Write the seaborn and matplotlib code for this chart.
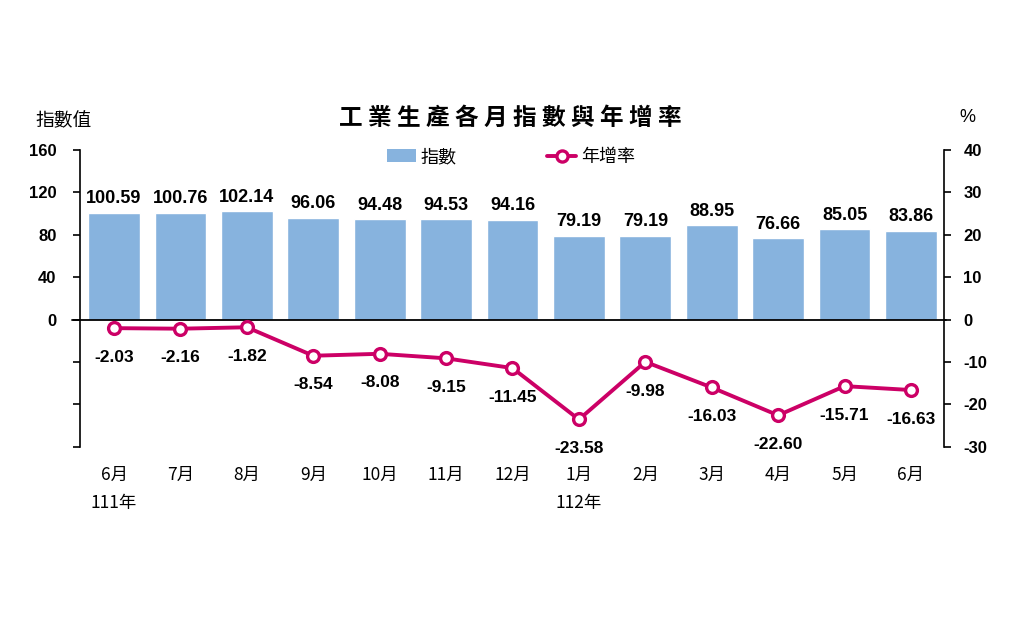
import numpy as np
import pandas as pd
import matplotlib
matplotlib.use("Agg")
import matplotlib.pyplot as plt
import matplotlib.transforms as mtransforms
from matplotlib import font_manager as fm
from matplotlib.lines import Line2D
from matplotlib.patches import Patch
import seaborn as sns

# ---------------- data ----------------
periods = ["111-06", "111-07", "111-08", "111-09", "111-10", "111-11", "111-12",
           "112-01", "112-02", "112-03", "112-04", "112-05", "112-06"]
month_labels = ["6月", "7月", "8月", "9月", "10月", "11月", "12月",
                "1月", "2月", "3月", "4月", "5月", "6月"]
index_values = [100.59, 100.76, 102.14, 96.06, 94.48, 94.53, 94.16,
                79.19, 79.19, 88.95, 76.66, 85.05, 83.86]
growth_rates = [-2.03, -2.16, -1.82, -8.54, -8.08, -9.15, -11.45,
                -23.58, -9.98, -16.03, -22.60, -15.71, -16.63]
year_marks = {"111-06": "111年", "112-01": "112年"}
left_ticks = [-120, -80, -40, 0, 40, 80, 120, 160]
left_tick_labels = ["", "", "", "0", "40", "80", "120", "160"]
right_ticks = [-30, -20, -10, 0, 10, 20, 30, 40]
right_tick_labels = ["-30", "-20", "-10", "0", "10", "20", "30", "40"]
title = "工 業 生 產 各 月 指 數 與 年 增 率"
legend_labels = ["指數", "年增率"]

BAR = "#87B3DE"
LINE = "#CC0066"

sns.set_theme(style="white")
avail = {f.name for f in fm.fontManager.ttflist}
NARROW = "Liberation Sans Narrow" if "Liberation Sans Narrow" in avail else "Liberation Sans"
CJK = "Noto Sans CJK TC"
plt.rcParams["font.family"] = ["Liberation Sans", CJK, "DejaVu Sans"]
for k in ["text.color", "axes.labelcolor", "xtick.color", "ytick.color"]:
    plt.rcParams[k] = "black"

W, H = 1010, 617
fig = plt.figure(figsize=(W / 100, H / 100), dpi=100)
ax_left, ax_right, ax_top, ax_bot = 80, 944, 150, 446.7
ax = fig.add_axes([ax_left / W, 1 - ax_bot / H, (ax_right - ax_left) / W, (ax_bot - ax_top) / H])

df = pd.DataFrame({"period": periods, "index": index_values,
                   "rate": growth_rates, "pos": np.arange(len(periods))})

sns.barplot(data=df, x="period", y="index", color=BAR, saturation=1,
            width=0.78, errorbar=None, ax=ax, zorder=1)
ax.set_ylim(-120, 160)
lab_size = 14 if NARROW != "Liberation Sans" else 13
ax.bar_label(ax.containers[0], labels=[f"{v:.2f}" for v in index_values],
             padding=4, fontsize=lab_size, fontweight="bold", family=NARROW, color="black")

ax2 = ax.twinx()
sns.lineplot(data=df, x="pos", y="rate", ax=ax2, color=LINE, lw=2.8,
             marker="o", markersize=8.5, markerfacecolor="white",
             markeredgecolor=LINE, markeredgewidth=2.4)
ax2.set_ylim(-30, 40)
for i, r in enumerate(growth_rates):
    ax2.annotate(f"{r:.2f}", (i, r), xytext=(0, -21), textcoords="offset points",
                 ha="center", va="center", fontsize=lab_size - 0.5, fontweight="bold",
                 family=NARROW, color="black")

xl = (-0.512, len(periods) - 1 + 0.497)
ax.set_xlim(*xl)
ax2.set_xlim(*xl)

# spines
for s in ["top", "bottom", "right"]:
    ax.spines[s].set_visible(False)
for s in ["top", "bottom", "left"]:
    ax2.spines[s].set_visible(False)
ax.spines["left"].set_color("black")
ax.spines["left"].set_linewidth(1.2)
ax2.spines["right"].set_color("black")
ax2.spines["right"].set_linewidth(1.2)

ax.set_yticks(left_ticks, labels=left_tick_labels, fontsize=12, fontweight="bold")
ax.tick_params(axis="y", left=True, direction="out", length=5, width=1.2,
               pad=12, colors="black")
ax2.set_yticks(right_ticks, labels=right_tick_labels, fontsize=12, fontweight="bold")
ax2.tick_params(axis="y", right=True, direction="out", length=5, width=1.2,
                pad=9, colors="black")

ax.set_xticks(range(len(periods)), labels=month_labels, fontsize=12.5, family=CJK)
ax.tick_params(axis="x", bottom=False, length=0, pad=14, colors="black")
ax2.tick_params(axis="x", bottom=False, labelbottom=False)
ax.set_xlabel("")
ax.set_ylabel("")
ax2.set_xlabel("")
ax2.set_ylabel("")
ax.grid(False)
ax2.grid(False)

ax.axhline(0, xmin=-0.0093, xmax=1.0023, color="black", lw=1.3,
           clip_on=False, zorder=3)

trans = mtransforms.blended_transform_factory(ax.transData, ax.transAxes)
for i, p in enumerate(periods):
    if p in year_marks:
        ax.text(i, -(503 - ax_bot) / (ax_bot - ax_top), year_marks[p], transform=trans,
                ha="center", va="center", fontsize=12.5, family=CJK, color="black")

fig.text(0.505, 1 - 118 / H, title, ha="center", va="center", fontsize=17,
         fontweight="bold", family=CJK, color="black")
fig.text(35 / W, 1 - 121 / H, "指數值", ha="left", va="center", fontsize=13.5,
         family=CJK, color="black")
fig.text(967 / W, 1 - 118 / H, "%", ha="center", va="center", fontsize=13,
         family="Liberation Sans", color="black")

handles = [Patch(facecolor=BAR, edgecolor="none"),
           Line2D([], [], color=LINE, lw=2.8, marker="o", markersize=8,
                  markerfacecolor="white", markeredgecolor=LINE, markeredgewidth=2.4)]
fig.legend(handles=handles, labels=legend_labels, loc="center",
           bbox_to_anchor=(0.506, 1 - 157 / H), ncol=2, frameon=False,
           prop={"family": CJK, "size": 13}, handlelength=1.6,
           columnspacing=5.0, handletextpad=0.3, labelcolor="black")

fig.savefig("out.png", dpi=100)
